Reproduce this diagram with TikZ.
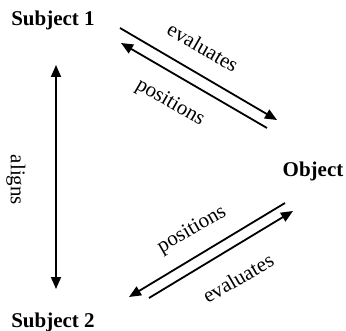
\documentclass[tikz,border=0pt]{standalone}
\usepackage{fontspec}
\setmainfont{Liberation Serif}
\usetikzlibrary{arrows.meta}
\begin{document}
\begin{tikzpicture}[x=1pt,y=1pt,
  lbl/.style={inner sep=0pt,font=\fontsize{21}{25}\selectfont},
  ttl/.style={inner sep=0pt,anchor=base,font=\fontsize{21}{25}\selectfont\bfseries},
  arr/.style={line width=1.8pt,-{Triangle[length=12pt,width=10pt]}}]
\useasboundingbox (0,0) rectangle (346,330);
\node[ttl] (s1) at (53,304) {Subject 1};
\node[ttl] (s2) at (53,2) {Subject 2};
\node[ttl] (ob) at (313,153) {Object};
% endpoints
\coordinate (a1) at (120,302); \coordinate (a2) at (277,210);
\coordinate (b1) at (267,202); \coordinate (b2) at (121,287);
\coordinate (c1) at (285,127); \coordinate (c2) at (129,33);
\coordinate (d1) at (149,32);  \coordinate (d2) at (293,119);
\coordinate (v1) at (56,265);  \coordinate (v2) at (56,41);
\draw[arr] (a1) -- (a2);
\draw[arr] (b1) -- (b2);
\draw[arr] (c1) -- (c2);
\draw[arr] (d1) -- (d2);
\draw[arr,{Triangle[length=12pt,width=10pt]}-{Triangle[length=12pt,width=10pt]}] (v1) -- (v2);
\node[lbl,rotate=-30] (l1) at (203,283) {evaluates};
\node[lbl,rotate=-30] (l2) at (170,227) {positions};
\node[lbl,rotate=30] (l3) at (192,100) {positions};
\node[lbl,rotate=30] (l4) at (238,52) {evaluates};
\node[lbl,rotate=-90] (l5) at (16,150) {aligns};
\end{tikzpicture}
\end{document}
